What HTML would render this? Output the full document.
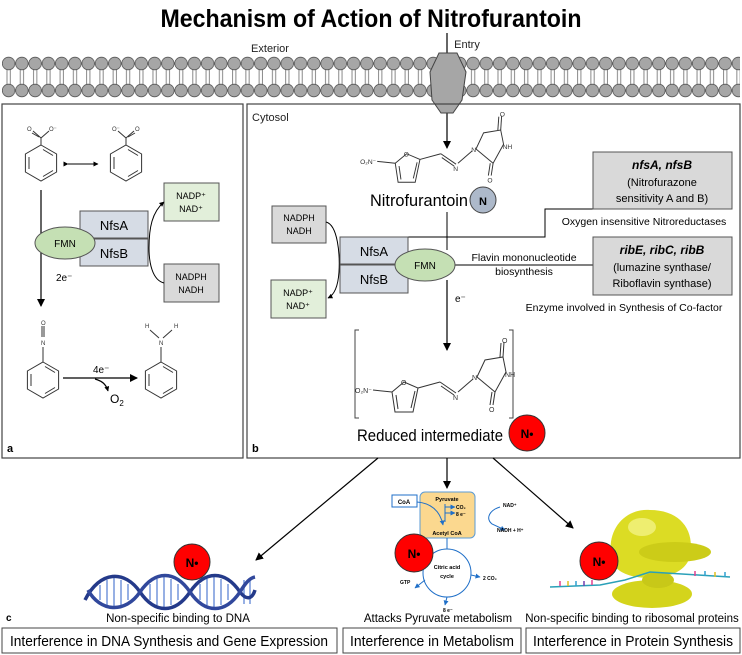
<!DOCTYPE html>
<html><head><meta charset="utf-8"><style>
html,body{margin:0;padding:0;background:#fff}
svg{display:block;font-family:"Liberation Sans",Arial,sans-serif}
</style></head><body>
<svg width="742" height="655" viewBox="0 0 742 655" xmlns="http://www.w3.org/2000/svg">
<defs>
<pattern id="mem" x="2" y="56" width="13.27" height="42" patternUnits="userSpaceOnUse">
<line x1="5" y1="12" x2="5" y2="30" stroke="#888" stroke-width="1"/>
<line x1="8.3" y1="12" x2="8.3" y2="30" stroke="#888" stroke-width="1"/>
<circle cx="6.6" cy="7.5" r="6.3" fill="#a6a6a6" stroke="#555" stroke-width="0.8"/>
<circle cx="6.6" cy="34.5" r="6.3" fill="#a6a6a6" stroke="#555" stroke-width="0.8"/>
</pattern>
<marker id="ah" markerWidth="8" markerHeight="8" refX="7" refY="4" orient="auto" markerUnits="userSpaceOnUse"><path d="M0,0 L8,4 L0,8 z" fill="#000"/></marker>
<marker id="ahs" markerWidth="5" markerHeight="5" refX="4.5" refY="2.5" orient="auto" markerUnits="userSpaceOnUse"><path d="M0,0 L5,2.5 L0,5 z" fill="#000"/></marker>
<marker id="ahb" markerWidth="5" markerHeight="5" refX="4.5" refY="2.5" orient="auto" markerUnits="userSpaceOnUse"><path d="M0,0 L5,2.5 L0,5 z" fill="#1f6fc8"/></marker>
<g id="benz">
<polygon points="0,-18 15.6,-9 15.6,9 0,18 -15.6,9 -15.6,-9" fill="none" stroke="#333" stroke-width="1"/>
<line x1="2" y1="-13.5" x2="12" y2="-7.5" stroke="#333"/><line x1="12" y1="7.5" x2="2" y2="13.5" stroke="#333"/><line x1="-12" y1="-6" x2="-12" y2="6" stroke="#333"/>
</g>
<g id="mol" stroke="#333" stroke-width="1" fill="none">
<line x1="16" y1="53" x2="35" y2="55"/>
<polygon points="35,55 47,45 61,51 56,75 38,75"/>
<line x1="39" y1="58" x2="41" y2="72"/><line x1="58" y1="54" x2="54" y2="71"/>
<line x1="61" y1="51" x2="83" y2="45"/>
<line x1="83" y1="45" x2="99" y2="56"/><line x1="84" y1="49" x2="97" y2="58"/>
<line x1="101" y1="55" x2="116" y2="42"/>
<polygon points="120,40 128,23 146,20 149,35 138,55"/>
<line x1="146" y1="20" x2="147" y2="5"/><line x1="143" y1="20" x2="144" y2="6"/>
<line x1="138" y1="55" x2="136" y2="68"/><line x1="135" y1="55" x2="133" y2="68"/>
<g stroke="none" fill="#333" font-size="7">
<text x="-2" y="56">O₂N⁻</text><text x="44" y="48">O</text><text x="96" y="63">N</text><text x="115" y="43">N</text>
<text x="145" y="6">O</text><text x="148" y="40">NH</text><text x="132" y="75">O</text></g>
</g>
</defs>

<text x="371" y="27" text-anchor="middle" font-size="25" font-weight="bold" textLength="421" lengthAdjust="spacingAndGlyphs">Mechanism of Action of Nitrofurantoin</text>
<text x="270" y="52" text-anchor="middle" font-size="11" fill="#222">Exterior</text>
<text x="467" y="48" text-anchor="middle" font-size="11" fill="#222">Entry</text>

<rect x="2" y="56" width="738" height="42" fill="url(#mem)"/>
<line x1="447" y1="33" x2="447" y2="148" stroke="#000" stroke-width="1.2" marker-end="url(#ah)"/>
<polygon points="439,53 457,53 466,72 462,100 453,113 441,113 432,100 430,72" fill="#a6a6a6" stroke="#444"/>

<!-- panel a -->
<rect x="2" y="104" width="241" height="354" fill="none" stroke="#444" stroke-width="1.2"/>
<use href="#benz" x="41" y="163"/>
<use href="#benz" x="126" y="163"/>
<g stroke="#333" font-size="6" fill="#333">
<line x1="41" y1="145" x2="41" y2="138"/><line x1="41" y1="138" x2="33" y2="131"/><line x1="39" y1="137" x2="32" y2="133"/><line x1="41" y1="138" x2="49" y2="131"/>
<line x1="126" y1="145" x2="126" y2="138"/><line x1="126" y1="138" x2="118" y2="131"/><line x1="126" y1="138" x2="134" y2="131"/><line x1="128" y1="137" x2="135" y2="133"/>
<text x="27" y="131" stroke="none">O</text><text x="49" y="131" stroke="none">O⁻</text>
<text x="112" y="131" stroke="none">O⁻</text><text x="135" y="131" stroke="none">O</text>
</g>
<line x1="68" y1="164" x2="98" y2="164" stroke="#000" marker-end="url(#ahs)" marker-start="url(#ahs)"/>
<line x1="41" y1="190" x2="41" y2="306" stroke="#000" stroke-width="1.2" marker-end="url(#ah)"/>
<rect x="80" y="211" width="68" height="27" fill="#d6dce5" stroke="#555"/>
<rect x="80" y="239" width="68" height="27" fill="#d6dce5" stroke="#555"/>
<text x="114" y="230" text-anchor="middle" font-size="13">NfsA</text>
<text x="114" y="258" text-anchor="middle" font-size="13">NfsB</text>
<ellipse cx="65" cy="243" rx="30" ry="16" fill="#c5e0b4" stroke="#555"/>
<text x="65" y="247" text-anchor="middle" font-size="10">FMN</text>
<rect x="164" y="183" width="55" height="38" fill="#e2efda" stroke="#555"/>
<text x="191" y="199" text-anchor="middle" font-size="9">NADP⁺</text><text x="191" y="212" text-anchor="middle" font-size="9">NAD⁺</text>
<rect x="164" y="264" width="55" height="38" fill="#d9d9d9" stroke="#555"/>
<text x="191" y="280" text-anchor="middle" font-size="9">NADPH</text><text x="191" y="293" text-anchor="middle" font-size="9">NADH</text>
<path d="M164,283 C152,280 149,262 149,248 C149,228 152,212 164,202" fill="none" stroke="#000" stroke-width="1" marker-end="url(#ahs)"/>
<text x="56" y="281" font-size="10">2e⁻</text>
<use href="#benz" x="43" y="380"/>
<g stroke="#333" font-size="6" fill="#333"><line x1="43" y1="362" x2="43" y2="347"/><line x1="42" y1="337" x2="42" y2="326"/><line x1="44" y1="337" x2="44" y2="326"/>
<text x="41" y="345" stroke="none">N</text><text x="41" y="325" stroke="none">O</text></g>
<use href="#benz" x="161" y="380"/>
<g stroke="#333" font-size="6" fill="#333"><line x1="161" y1="362" x2="161" y2="347"/><line x1="159" y1="338" x2="150" y2="330"/><line x1="163" y1="338" x2="172" y2="330"/>
<text x="159" y="345" stroke="none">N</text><text x="145" y="328" stroke="none">H</text><text x="174" y="328" stroke="none">H</text></g>
<line x1="63" y1="378" x2="137" y2="378" stroke="#000" stroke-width="1.2" marker-end="url(#ah)"/>
<text x="93" y="373" font-size="10">4e⁻</text>
<path d="M95,379 C102,381 106,384 108,391" fill="none" stroke="#000" stroke-width="1.2" marker-end="url(#ahs)"/>
<text x="110" y="403" font-size="12">O<tspan font-size="8" dy="3">2</tspan></text>
<text x="7" y="452" font-size="11" font-weight="bold">a</text>

<!-- panel b -->
<rect x="247" y="104" width="493" height="354" fill="none" stroke="#444" stroke-width="1.2"/>
<text x="252" y="121" font-size="11" fill="#222">Cytosol</text>
<use href="#mol" transform="translate(362,111) scale(0.95)"/>
<text x="370" y="206" font-size="17" textLength="98" lengthAdjust="spacingAndGlyphs">Nitrofurantoin</text>
<circle cx="483" cy="200" r="13" fill="#adb9ca" stroke="#444"/>
<text x="483" y="205" text-anchor="middle" font-size="11" font-weight="bold">N</text>
<line x1="447" y1="212" x2="447" y2="250" stroke="#000"/>
<line x1="447" y1="280" x2="447" y2="350" stroke="#000" stroke-width="1.2" marker-end="url(#ah)"/>
<text x="455" y="302" font-size="10">e⁻</text>
<polyline points="408,237 545,237 545,209 593,209" fill="none" stroke="#000"/>
<line x1="455" y1="265" x2="593" y2="265" stroke="#000"/>
<rect x="272" y="206" width="54" height="37" fill="#d9d9d9" stroke="#555"/>
<text x="299" y="221" text-anchor="middle" font-size="9">NADPH</text><text x="299" y="234" text-anchor="middle" font-size="9">NADH</text>
<rect x="271" y="280" width="55" height="38" fill="#e2efda" stroke="#555"/>
<text x="298" y="296" text-anchor="middle" font-size="9">NADP⁺</text><text x="298" y="309" text-anchor="middle" font-size="9">NAD⁺</text>
<path d="M326,222 C338,225 340,255 339,272 C338,287 334,295 328,298" fill="none" stroke="#000" marker-end="url(#ahs)"/>
<rect x="340" y="237" width="68" height="27" fill="#d6dce5" stroke="#555"/>
<rect x="340" y="265" width="68" height="28" fill="#d6dce5" stroke="#555"/>
<text x="374" y="256" text-anchor="middle" font-size="13">NfsA</text>
<text x="374" y="284" text-anchor="middle" font-size="13">NfsB</text>
<ellipse cx="425" cy="265" rx="30" ry="16" fill="#c5e0b4" stroke="#555"/>
<text x="425" y="269" text-anchor="middle" font-size="10">FMN</text>
<rect x="593" y="152" width="139" height="57" fill="#d9d9d9" stroke="#555"/>
<text x="662" y="169" text-anchor="middle" font-size="12" font-weight="bold" font-style="italic">nfsA, nfsB</text>
<text x="662" y="186" text-anchor="middle" font-size="11">(Nitrofurazone</text>
<text x="662" y="202" text-anchor="middle" font-size="11">sensitivity A and B)</text>
<text x="644" y="225" text-anchor="middle" font-size="10.5">Oxygen insensitive Nitroreductases</text>
<rect x="593" y="237" width="139" height="58" fill="#d9d9d9" stroke="#555"/>
<text x="662" y="254" text-anchor="middle" font-size="12" font-weight="bold" font-style="italic">ribE, ribC, ribB</text>
<text x="662" y="271" text-anchor="middle" font-size="11">(lumazine synthase/</text>
<text x="662" y="287" text-anchor="middle" font-size="11">Riboflavin synthase)</text>
<text x="524" y="261" text-anchor="middle" font-size="10.5">Flavin mononucleotide</text>
<text x="524" y="275" text-anchor="middle" font-size="10.5">biosynthesis</text>
<text x="624" y="311" text-anchor="middle" font-size="10.5">Enzyme involved in Synthesis of Co-factor</text>
<polyline points="359,330 355,330 355,418 359,418" fill="none" stroke="#444"/>
<polyline points="509,330 513,330 513,418 509,418" fill="none" stroke="#444"/>
<use href="#mol" transform="translate(357,337)"/>
<text x="357" y="441" font-size="17" textLength="146" lengthAdjust="spacingAndGlyphs">Reduced intermediate</text>
<circle cx="527" cy="433" r="18" fill="#f00" stroke="#333"/>
<text x="527" y="438" text-anchor="middle" font-size="12" font-weight="bold">N•</text>
<text x="252" y="452" font-size="11" font-weight="bold">b</text>

<!-- bottom arrows -->
<line x1="378" y1="458" x2="256" y2="560" stroke="#000" stroke-width="1.2" marker-end="url(#ah)"/>
<line x1="447" y1="458" x2="447" y2="488" stroke="#000" stroke-width="1.2" marker-end="url(#ah)"/>
<line x1="493" y1="458" x2="573" y2="528" stroke="#000" stroke-width="1.2" marker-end="url(#ah)"/>

<!-- DNA -->
<g>
<g stroke="#6a8fd8" stroke-width="1.4">
<line x1="100" y1="585" x2="100" y2="600"/><line x1="107" y1="580" x2="107" y2="605"/><line x1="114" y1="578" x2="114" y2="607"/><line x1="121" y1="580" x2="121" y2="605"/><line x1="128" y1="584" x2="128" y2="600"/>
<line x1="150" y1="584" x2="150" y2="600"/><line x1="157" y1="579" x2="157" y2="605"/><line x1="164" y1="577" x2="164" y2="607"/><line x1="171" y1="579" x2="171" y2="605"/><line x1="178" y1="584" x2="178" y2="600"/>
<line x1="200" y1="584" x2="200" y2="600"/><line x1="207" y1="579" x2="207" y2="605"/><line x1="214" y1="577" x2="214" y2="607"/><line x1="221" y1="579" x2="221" y2="605"/><line x1="228" y1="584" x2="228" y2="600"/><line x1="244" y1="580" x2="244" y2="604"/><line x1="250" y1="578" x2="250" y2="604"/>
</g>
<path d="M85,600 C100,570 125,570 140,592 C155,614 175,614 190,592 C205,570 225,570 240,592 C246,600 252,600 255,590" fill="none" stroke="#243a8a" stroke-width="3.5"/>
<path d="M88,590 C100,612 125,614 140,592 C155,570 175,570 190,592 C205,614 225,614 240,592 C246,582 250,578 255,577" fill="none" stroke="#31489c" stroke-width="3.5"/>
</g>
<circle cx="192" cy="562" r="18" fill="#f00" stroke="#333"/>
<text x="192" y="567" text-anchor="middle" font-size="12" font-weight="bold">N•</text>
<text x="178" y="622" text-anchor="middle" font-size="11.5">Non-specific binding to DNA</text>
<text x="6" y="621" font-size="10" font-weight="bold">c</text>

<!-- metabolism -->
<rect x="420" y="492" width="55" height="46" rx="5" fill="#fbd88f" stroke="#5b9bd5"/>
<text x="447" y="501" text-anchor="middle" font-size="5.5" font-weight="bold">Pyruvate</text>
<text x="447" y="535" text-anchor="middle" font-size="5.5" font-weight="bold">Acetyl CoA</text>
<text x="456" y="509" font-size="5" font-weight="bold">CO₂</text><text x="456" y="516" font-size="5" font-weight="bold">8 e⁻</text>
<rect x="392" y="495" width="25" height="12" fill="#fff" stroke="#1f6fc8"/>
<text x="404" y="504" text-anchor="middle" font-size="6" font-weight="bold">CoA</text>
<g fill="none" stroke="#1f6fc8" stroke-width="1">
<path d="M417,502 C430,503 440,510 443,525" marker-end="url(#ahb)"/>
<path d="M445,504 L445,522" />
<path d="M445,507 L455,507" marker-end="url(#ahb)"/><path d="M445,513 L455,513" marker-end="url(#ahb)"/>
<path d="M500,507 C490,510 485,518 492,524 L505,530" marker-end="url(#ahb)"/>
<circle cx="447" cy="573" r="24"/>
<path d="M447,538 L447,549"/>
<path d="M425,580 L415,588" marker-end="url(#ahb)"/><path d="M471,575 L480,577" marker-end="url(#ahb)"/><path d="M447,597 L445,605" marker-end="url(#ahb)"/>
</g>
<text x="503" y="507" font-size="5" font-weight="bold">NAD⁺</text>
<text x="497" y="532" font-size="5" font-weight="bold">NADH + H⁺</text>
<text x="447" y="569" text-anchor="middle" font-size="5.5" font-weight="bold">Citric acid</text>
<text x="447" y="578" text-anchor="middle" font-size="5.5" font-weight="bold">cycle</text>
<text x="400" y="584" font-size="5" font-weight="bold">GTP</text>
<text x="483" y="580" font-size="5" font-weight="bold">2 CO₂</text>
<text x="443" y="612" font-size="5" font-weight="bold">8 e⁻</text>
<circle cx="414" cy="553" r="19" fill="#f00" stroke="#333"/>
<text x="414" y="558" text-anchor="middle" font-size="12" font-weight="bold">N•</text>
<text x="438" y="622" text-anchor="middle" font-size="11.5">Attacks Pyruvate metabolism</text>

<!-- ribosome -->
<ellipse cx="652" cy="594" rx="40" ry="14" fill="#d4d41c"/>
<path d="M612,560 C605,530 625,508 650,510 C680,510 695,530 690,555 C688,570 670,578 650,578 C630,578 615,572 612,560 z" fill="#dcdc24"/>
<ellipse cx="675" cy="552" rx="36" ry="10" fill="#cccc18"/>
<ellipse cx="642" cy="527" rx="14" ry="9" fill="#eeee70"/>
<ellipse cx="658" cy="580" rx="16" ry="8" fill="#c8c818"/>
<path d="M550,587 L600,585 L625,580 L650,572 L730,577" fill="none" stroke="#2aa0b8" stroke-width="1.5"/>
<g stroke-width="1.5"><line x1="560" y1="586" x2="560" y2="581" stroke="#e04090"/><line x1="568" y1="586" x2="568" y2="581" stroke="#e0c020"/><line x1="576" y1="586" x2="576" y2="581" stroke="#30a0d0"/><line x1="584" y1="586" x2="584" y2="581" stroke="#7040b0"/><line x1="592" y1="585" x2="592" y2="580" stroke="#e04090"/>
<line x1="695" y1="576" x2="695" y2="571" stroke="#e04090"/><line x1="705" y1="576" x2="705" y2="571" stroke="#30a0d0"/><line x1="715" y1="577" x2="715" y2="572" stroke="#e0c020"/><line x1="725" y1="577" x2="725" y2="572" stroke="#30a0d0"/></g>
<circle cx="599" cy="561" r="19" fill="#f00" stroke="#333"/>
<text x="599" y="566" text-anchor="middle" font-size="12" font-weight="bold">N•</text>
<text x="632" y="622" text-anchor="middle" font-size="11.5">Non-specific binding to ribosomal proteins</text>

<!-- bottom boxes -->
<rect x="2" y="628" width="335" height="25" fill="#fff" stroke="#444"/>
<text x="169" y="646" text-anchor="middle" font-size="14.5" textLength="318" lengthAdjust="spacingAndGlyphs">Interference in DNA Synthesis and Gene Expression</text>
<rect x="343" y="628" width="178" height="25" fill="#fff" stroke="#444"/>
<text x="432" y="646" text-anchor="middle" font-size="14.5" textLength="164" lengthAdjust="spacingAndGlyphs">Interference in Metabolism</text>
<rect x="526" y="628" width="214" height="25" fill="#fff" stroke="#444"/>
<text x="633" y="646" text-anchor="middle" font-size="14.5" textLength="200" lengthAdjust="spacingAndGlyphs">Interference in Protein Synthesis</text>
</svg>
</body></html>
